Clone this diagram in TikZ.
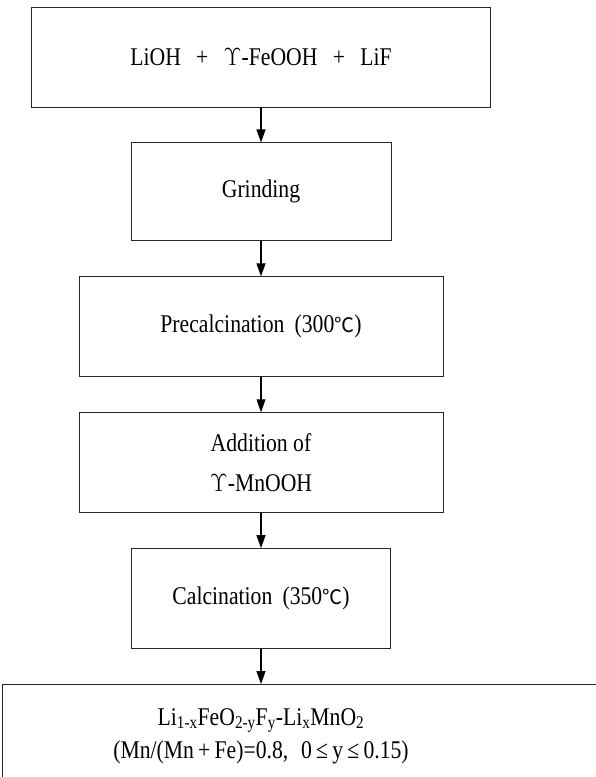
\documentclass[tikz,border=0pt]{standalone}
\usepackage{fontspec}
\setmainfont[FakeStretch=0.85]{Liberation Serif}
\newfontfamily\cjk{Noto Sans CJK KR}
\usetikzlibrary{positioning,arrows.meta}
\newcommand{\Gam}{$\Upsilon$}
\newcommand{\Deg}{{\cjk\fontsize{20}{20}\selectfont ℃}}
\newcommand{\Plus}{\hspace{.6em}+\hspace{.6em}}
\tikzstyle{stepbox} = [draw=black!85, line width=0.9pt, minimum height=100pt, align=center, inner sep=0pt, font=\fontsize{25.5}{40}\selectfont]
\tikzstyle{prodtext} = [align=center, inner sep=0pt, font=\fontsize{25.5}{33}\selectfont]
\tikzstyle{flow} = [line width=1.2pt, -{Triangle[length=13pt,width=9pt]}]

\begin{document}
\begin{tikzpicture}[node distance=35pt]
\useasboundingbox (0,0) rectangle (595pt,-777pt);

% Define nodes
\node[stepbox, minimum width=459pt] at (261pt,-57pt)      (mix) {LiOH\Plus\Gam-FeOOH\Plus LiF};
\node[stepbox, minimum width=260pt, minimum height=98pt, below = of mix] (grind) {Grinding};
\node[stepbox, minimum width=364pt, below = of grind]     (precalc) {Precalcination\hspace{.4em}(300\Deg)};
\node[stepbox, minimum width=364pt, below = of precalc]   (addmn) {Addition of\\\Gam-MnOOH};
\node[stepbox, minimum width=259pt, below = of addmn]     (calc) {Calcination\hspace{.4em}(350\Deg)};
\coordinate[below = of calc]                              (ptop);
\node[prodtext, below = 24pt of ptop]                     (prod) {Li\textsubscript{1-x}FeO\textsubscript{2-y}F\textsubscript{y}-Li\textsubscript{x}MnO\textsubscript{2}\\(Mn/(Mn\,+\,Fe)=0.8,\hspace{.5em}0\,≤\,y\,≤\,0.15)};

% Product box (runs past the right edge)
\draw[draw=black!85, line width=0.9pt] ([xshift=-259pt,yshift=-95pt]ptop) -- ([xshift=-259pt]ptop) -- ([xshift=345pt]ptop);
\draw[draw=black!85, line width=0.9pt] ([xshift=115pt,yshift=-95pt]ptop) -- ++(240pt,0);

% Edges
\draw[flow] (mix)     -- (grind);
\draw[flow] (grind)   -- (precalc);
\draw[flow] (precalc) -- (addmn);
\draw[flow] (addmn)   -- (calc);
\draw[flow] (calc)    -- (ptop);
\end{tikzpicture}
\end{document}
